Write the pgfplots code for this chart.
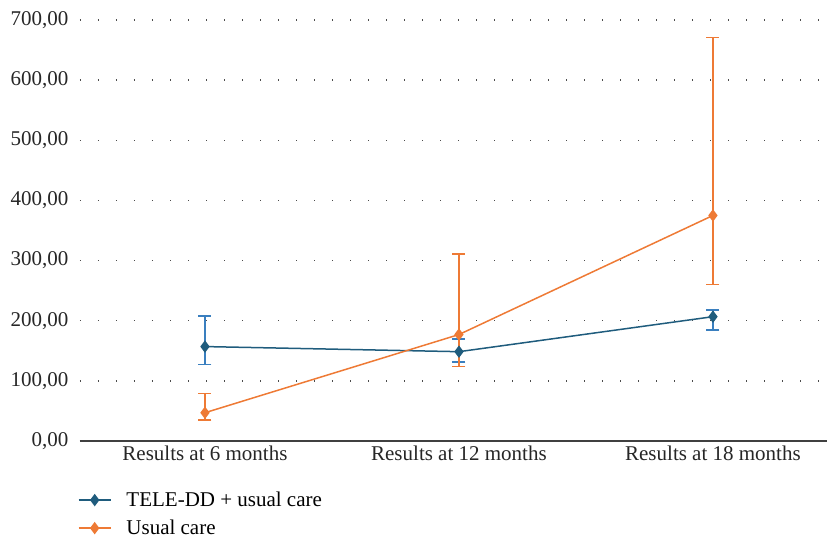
\documentclass[border=0pt]{standalone}
\usepackage{fontspec}
\setmainfont{Liberation Serif}
\usepackage{pgfplots}
\pgfplotsset{compat=1.18}
\definecolor{bline}{HTML}{1F5C7D}
\definecolor{berr}{HTML}{3A7FBF}
\definecolor{oline}{HTML}{EE7A35}
\begin{document}
\begin{tikzpicture}
\useasboundingbox (-80pt,-99pt) rectangle (747pt,441pt);
\begin{axis}[
  scale only axis, width=747pt, height=421pt,
  xmin=-0.492, xmax=2.449, ymin=0, ymax=700,
  axis x line*=bottom, axis y line*=left,
  y axis line style={draw=none},
  x axis line style={draw=black!75, line width=1.2pt, -},
  xtick={0,1,2},
  xticklabels={Results at 6 months,Results at 12 months,Results at 18 months},
  ytick={0,100,...,700},
  yticklabels={{0,00},{100,00},{200,00},{300,00},{400,00},{500,00},{600,00},{700,00}},
  tick style={draw=none},
  ymajorgrids,
  grid style={draw=black!70, line width=1.3pt, dash pattern=on 1.3pt off 16.7pt},
  ticklabel style={font=\fontsize{21}{25}\selectfont, text=black!85},
  yticklabel style={xshift=-8pt},
  xticklabel style={yshift=-1pt},
  legend style={at={(rel axis cs:-0.003,-0.116)}, anchor=north west, draw=none, fill=none,
    font=\fontsize{21}{25}\selectfont, row sep=8pt, inner sep=0pt,
    /tikz/every odd column/.append style={column sep=13pt}},
  legend cell align=left,
  legend image code/.code={\draw[#1] (0pt,0pt) -- (16pt,0pt) plot coordinates {(16pt,0pt)} -- (32pt,0pt);},
  clip=false,
]
\addplot[bline, line width=1.5pt, mark=diamond*, mark size=5pt,
  mark options={solid},
  error bars/.cd, y dir=both, y explicit,
  error mark options={rotate=90, line width=1.5pt, berr, mark size=6.5pt},
  error bar style={line width=1.5pt, berr}]
  table[x=x, y=y, y error plus=ep, y error minus=em] {
x y ep em
0 157 51 29.5
1 148.5 21.5 17.5
2 206.7 11.3 22
};
\addlegendentry{TELE-DD + usual care}
\addplot[oline, line width=1.5pt, mark=diamond*, mark size=5pt,
  mark options={solid},
  error bars/.cd, y dir=both, y explicit,
  error mark options={rotate=90, line width=1.5pt, oline, mark size=6.5pt},
  error bar style={line width=1.5pt, oline}]
  table[x=x, y=y, y error plus=ep, y error minus=em] {
x y ep em
0 47 32 12
1 177 134 53.5
2 375 296 115
};
\addlegendentry{Usual care}
\end{axis}
\end{tikzpicture}
\end{document}
